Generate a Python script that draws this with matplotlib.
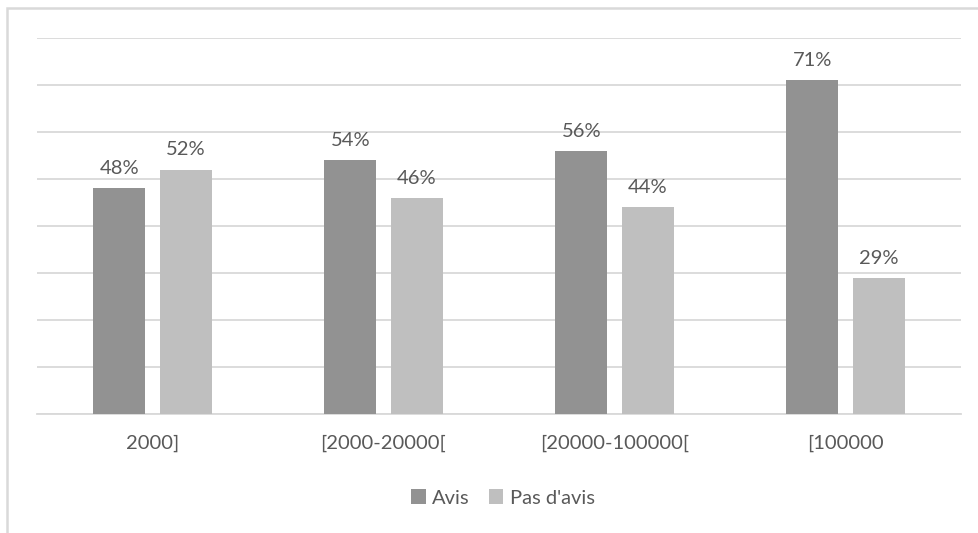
import matplotlib
matplotlib.use('Agg')
from matplotlib import pyplot as plt
from matplotlib.patches import Rectangle
import numpy as np

categories = ['2000]', '[2000-20000[', '[20000-100000[', '[100000']
avis = [48, 54, 56, 71]
pas_avis = [52, 46, 44, 29]
series_names = ['Avis', "Pas d'avis"]

plt.rcParams['font.family'] = ['Lato', 'DejaVu Sans']
txt_color = '#595959'
dark = '#929292'
light = '#bfbfbf'
grid_color = '#d9d9d9'
fs = 14.5

W, H = 979, 533
fig = plt.figure(figsize=(W / 100, H / 100), dpi=100)
ax = fig.add_axes([37 / W, (H - 414) / H, (961 - 37) / W, (414 - 38) / H])

x = np.arange(len(categories))
w = 0.225
off = 0.143
b1 = ax.bar(x - off, avis, w, color=dark, label=series_names[0], zorder=3)
b2 = ax.bar(x + off, pas_avis, w, color=light, label=series_names[1], zorder=3)

for bars, vals in [(b1, avis), (b2, pas_avis)]:
    for r, v in zip(bars, vals):
        ax.annotate('%d%%' % v, (r.get_x() + r.get_width() / 2, v),
                    xytext=(0, 8), textcoords='offset points',
                    ha='center', va='bottom', fontsize=fs, color=txt_color)

ax.set_xlim(-0.5, 3.5)
ax.set_ylim(0, 80)
ax.set_yticks(np.arange(0, 81, 10))
ax.yaxis.grid(True, color=grid_color, linewidth=1.3, zorder=0)
ax.tick_params(axis='y', left=False, labelleft=False)
ax.tick_params(axis='x', length=0, pad=15, labelsize=fs, labelcolor=txt_color)
ax.set_xticks(x)
ax.set_xticklabels(categories)
for s in ['top', 'right', 'left']:
    ax.spines[s].set_visible(False)
ax.spines['bottom'].set_color(grid_color)
ax.spines['bottom'].set_linewidth(1.3)

fig.legend(handles=[b1, b2], labels=series_names, loc='center',
           bbox_to_anchor=(503 / W, (H - 498) / H), ncol=2, frameon=False,
           fontsize=fs, labelcolor=txt_color, handlelength=0.7,
           handleheight=0.7, handletextpad=0.3, columnspacing=1.0)

# outer chart border, cut off at right and bottom
fig.patches.append(Rectangle((7 / W, -0.1), 1.2, (H - 8) / H + 0.1,
                             transform=fig.transFigure, fill=False,
                             edgecolor=grid_color, linewidth=1.8))

plt.savefig('out.png', dpi=100)
